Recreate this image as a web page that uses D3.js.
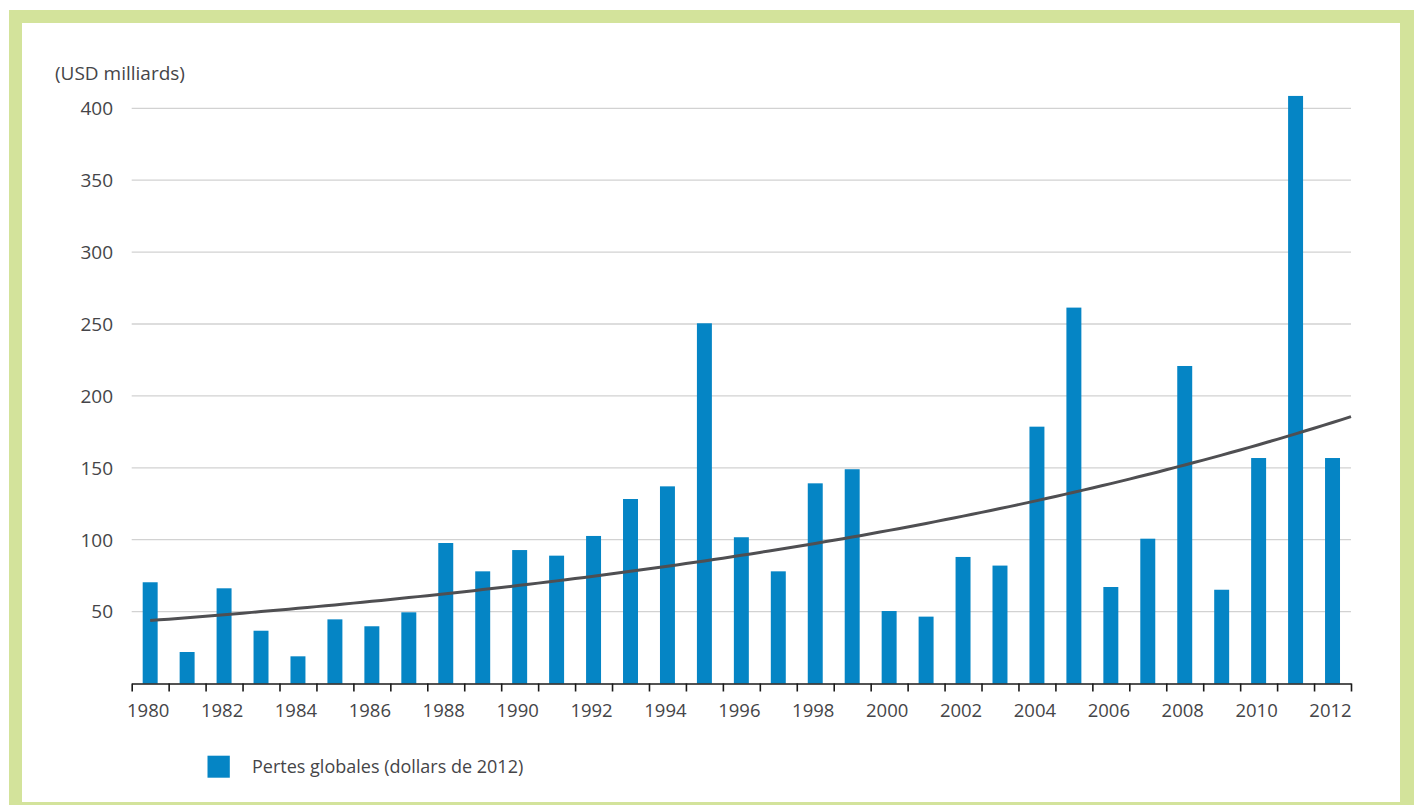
<!DOCTYPE html>
<html>
<head>
<meta charset="utf-8">
<script src="https://cdn.jsdelivr.net/npm/d3@7"></script>
<style>
  html, body { margin: 0; padding: 0; background: #ffffff; }
  svg { display: block; }
  text { font-family: "Open Sans", sans-serif; fill: #454548; }
</style>
</head>
<body>
<svg id="chart" width="1414" height="805"></svg>
<script>
// ---- data ----
const years = d3.range(1980, 2013);
const losses = [70.4, 21.9, 66.2, 36.7, 18.9, 44.6, 39.8, 49.5, 97.7, 78.0,
                92.8, 88.9, 102.6, 128.3, 137.1, 250.5, 101.7, 78.0, 139.2, 149.0,
                50.4, 46.5, 88.0, 82.0, 178.6, 261.4, 67.1, 100.7, 220.8, 65.2,
                156.8, 408.6, 156.8];
const yTicks = [50, 100, 150, 200, 250, 300, 350, 400];
const xLabelYears = d3.range(1980, 2013, 2);
const unitLabel = "(USD milliards)";
const legendLabel = "Pertes globales (dollars de 2012)";

const data = years.map((y, i) => ({ year: y, value: losses[i] }));

const svg = d3.select("#chart");

// frame
svg.append("rect").attr("x", 9).attr("y", 10).attr("width", 1405).attr("height", 795)
  .attr("fill", "#d3e39b");
svg.append("rect").attr("x", 22).attr("y", 23).attr("width", 1378).attr("height", 779)
  .attr("fill", "#ffffff");

const left = 131.7, right = 1351, y0 = 683.5, yTop = 108.3;

const x = d3.scaleBand().domain(years).range([left, right])
  .paddingInner(0.595).paddingOuter(0.2975);
const xEdge = d3.scaleLinear().domain([1980, 2013]).range([left, right]);
const y = d3.scaleLinear().domain([0, 400]).range([y0, yTop]);

// gridlines
svg.append("g").selectAll("line").data(yTicks).join("line")
  .attr("x1", left).attr("x2", right)
  .attr("y1", d => y(d)).attr("y2", d => y(d))
  .attr("stroke", "#d2d2d2").attr("stroke-width", 1.3);

// y labels
svg.append("g").selectAll("text").data(yTicks).join("text")
  .attr("x", 113).attr("y", d => y(d)).attr("dy", "0.36em")
  .attr("text-anchor", "end").attr("font-size", 19)
  .text(d => d);

svg.append("text").attr("x", 55).attr("y", 80).attr("font-size", 19).text(unitLabel);

// bars
svg.append("g").selectAll("rect").data(data).join("rect")
  .attr("x", d => x(d.year)).attr("width", x.bandwidth())
  .attr("y", d => y(d.value)).attr("height", d => y(0) - y(d.value))
  .attr("fill", "#0585c5");

// exponential trend (least squares on log values, as in the source chart)
const lx = data.map((d, i) => i), ly = data.map(d => Math.log(d.value));
const mx = d3.mean(lx), my = d3.mean(ly);
const b = d3.sum(lx.map((v, i) => (v - mx) * (ly[i] - my))) / d3.sum(lx.map(v => (v - mx) ** 2));
const a = my - b * mx;
const step = x.step();
const cx0 = x(1980) + x.bandwidth() / 2;
const tEnd = (right - cx0) / step;
const trendPts = d3.range(0, tEnd, 0.25).concat([tEnd]).map(t => [cx0 + t * step, Math.exp(a + b * t)]);
svg.append("path")
  .attr("d", d3.line().x(p => p[0]).y(p => y(p[1]))(trendPts))
  .attr("fill", "none").attr("stroke", "#4f4f52").attr("stroke-width", 3);

// x axis
const axis = svg.append("g").attr("transform", `translate(0,${y0})`)
  .call(d3.axisBottom(xEdge).tickValues(d3.range(1980, 2014)).tickFormat("").tickSize(8).tickSizeOuter(0));
axis.select(".domain").attr("stroke", "#1a1a1a").attr("stroke-width", 1.6);
axis.selectAll(".tick line").attr("stroke", "#1a1a1a").attr("stroke-width", 1.6);

svg.append("g").selectAll("text").data(xLabelYears).join("text")
  .attr("x", d => x(d) + x.bandwidth() / 2 - 2).attr("y", 716.5)
  .attr("text-anchor", "middle").attr("font-size", 18.5)
  .text(d => d);

// legend
svg.append("rect").attr("x", 207.5).attr("y", 755.7).attr("width", 22.3).attr("height", 22)
  .attr("fill", "#0585c5");
svg.append("text").attr("x", 252).attr("y", 772.5).attr("font-size", 18).text(legendLabel);
</script>
</body>
</html>
